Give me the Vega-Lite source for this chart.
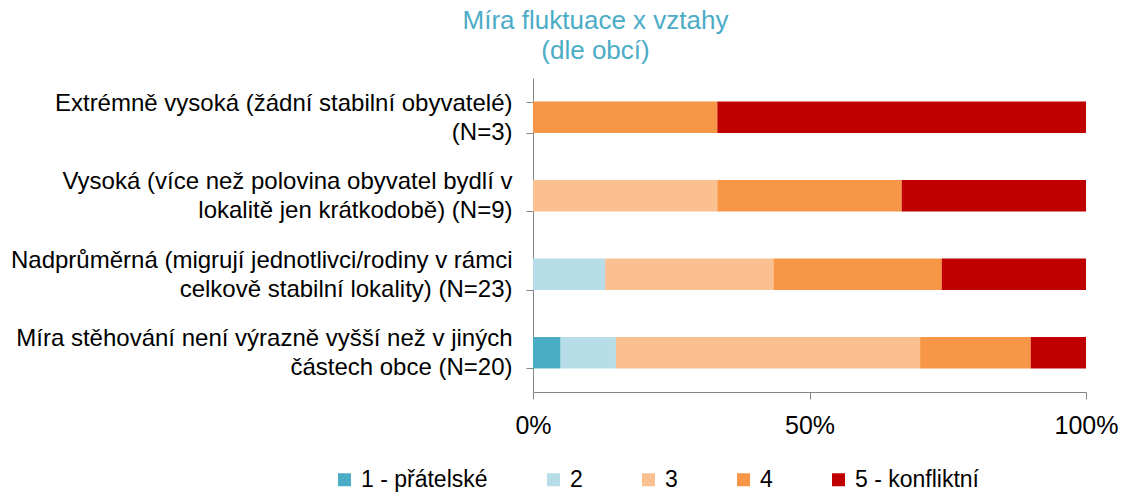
{
  "$schema": "https://vega.github.io/schema/vega-lite/v6.json",
  "width": 553,
  "height": 314,
  "autosize": {"type": "none"},
  "padding": {"left": 533, "top": 78, "right": 39, "bottom": 101},
  "background": "white",
  "config": {
    "font": "Liberation Sans",
    "view": {"stroke": null}
  },
  "title": {
    "text": ["Míra fluktuace x vztahy", "(dle obcí)"],
    "color": "#4BACC6",
    "fontSize": 26,
    "fontWeight": "normal",
    "font": "Liberation Sans",
    "lineHeight": 30,
    "anchor": "middle",
    "dx": -214,
    "offset": 2
  },
  "data": {
    "values": [
      {"kategorie": "Extrémně vysoká (žádní stabilní obyvatelé)|(N=3)", "hodnoceni": "4", "poradi": 4, "pocet": 1},
      {"kategorie": "Extrémně vysoká (žádní stabilní obyvatelé)|(N=3)", "hodnoceni": "5 - konfliktní", "poradi": 5, "pocet": 2},
      {"kategorie": "Vysoká (více než polovina obyvatel bydlí v|lokalitě jen krátkodobě) (N=9)", "hodnoceni": "3", "poradi": 3, "pocet": 3},
      {"kategorie": "Vysoká (více než polovina obyvatel bydlí v|lokalitě jen krátkodobě) (N=9)", "hodnoceni": "4", "poradi": 4, "pocet": 3},
      {"kategorie": "Vysoká (více než polovina obyvatel bydlí v|lokalitě jen krátkodobě) (N=9)", "hodnoceni": "5 - konfliktní", "poradi": 5, "pocet": 3},
      {"kategorie": "Nadprůměrná (migrují jednotlivci/rodiny v rámci|celkově stabilní lokality) (N=23)", "hodnoceni": "2", "poradi": 2, "pocet": 3},
      {"kategorie": "Nadprůměrná (migrují jednotlivci/rodiny v rámci|celkově stabilní lokality) (N=23)", "hodnoceni": "3", "poradi": 3, "pocet": 7},
      {"kategorie": "Nadprůměrná (migrují jednotlivci/rodiny v rámci|celkově stabilní lokality) (N=23)", "hodnoceni": "4", "poradi": 4, "pocet": 7},
      {"kategorie": "Nadprůměrná (migrují jednotlivci/rodiny v rámci|celkově stabilní lokality) (N=23)", "hodnoceni": "5 - konfliktní", "poradi": 5, "pocet": 6},
      {"kategorie": "Míra stěhování není výrazně vyšší než v jiných|částech obce (N=20)", "hodnoceni": "1 - přátelské", "poradi": 1, "pocet": 1},
      {"kategorie": "Míra stěhování není výrazně vyšší než v jiných|částech obce (N=20)", "hodnoceni": "2", "poradi": 2, "pocet": 2},
      {"kategorie": "Míra stěhování není výrazně vyšší než v jiných|částech obce (N=20)", "hodnoceni": "3", "poradi": 3, "pocet": 11},
      {"kategorie": "Míra stěhování není výrazně vyšší než v jiných|částech obce (N=20)", "hodnoceni": "4", "poradi": 4, "pocet": 4},
      {"kategorie": "Míra stěhování není výrazně vyšší než v jiných|částech obce (N=20)", "hodnoceni": "5 - konfliktní", "poradi": 5, "pocet": 2}
    ]
  },
  "mark": {"type": "bar"},
  "encoding": {
    "y": {
      "field": "kategorie",
      "type": "nominal",
      "sort": [
        "Extrémně vysoká (žádní stabilní obyvatelé)|(N=3)",
        "Vysoká (více než polovina obyvatel bydlí v|lokalitě jen krátkodobě) (N=9)",
        "Nadprůměrná (migrují jednotlivci/rodiny v rámci|celkově stabilní lokality) (N=23)",
        "Míra stěhování není výrazně vyšší než v jiných|částech obce (N=20)"
      ],
      "scale": {"paddingInner": 0.6, "paddingOuter": 0.3},
      "axis": {
        "title": null,
        "labelExpr": "split(datum.label, '|')",
        "labelFontSize": 24,
        "labelColor": "#000000",
        "labelLineHeight": 29,
        "labelLimit": 700,
        "labelPadding": 14,
        "labelOffset": -14,
        "ticks": true,
        "tickBand": "extent",
        "tickSize": 7,
        "tickColor": "#868686",
        "domainColor": "#868686",
        "domainWidth": 1
      }
    },
    "x": {
      "field": "pocet",
      "type": "quantitative",
      "stack": "normalize",
      "scale": {"domain": [0, 1]},
      "axis": {
        "title": null,
        "format": "%",
        "values": [0, 0.5, 1],
        "labelFontSize": 25,
        "labelColor": "#000000",
        "labelPadding": 14,
        "labelFlush": false,
        "grid": false,
        "domain": true,
        "domainColor": "#868686",
        "ticks": true,
        "tickSize": 7,
        "tickColor": "#868686"
      }
    },
    "order": {"field": "poradi", "type": "quantitative"},
    "color": {
      "field": "hodnoceni",
      "type": "nominal",
      "scale": {
        "domain": ["1 - přátelské", "2", "3", "4", "5 - konfliktní"],
        "range": ["#4BACC6", "#B7DEE8", "#FAC090", "#F79646", "#C00000"]
      },
      "legend": {
        "title": null,
        "orient": "none",
        "direction": "horizontal",
        "legendX": -200,
        "legendY": 390,
        "symbolType": "square",
        "symbolSize": 169,
        "symbolStrokeWidth": 0,
        "labelFontSize": 23,
        "labelColor": "#000000",
        "labelOffset": 5,
        "columnPadding": 54
      }
    }
  }
}
